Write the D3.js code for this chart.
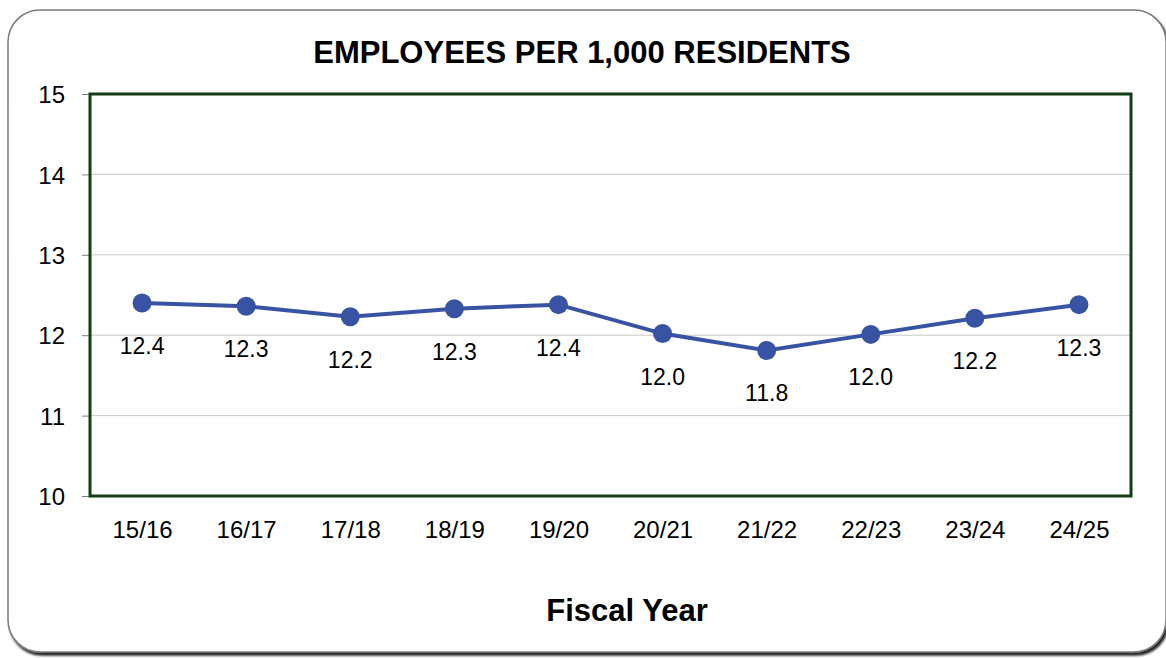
<!DOCTYPE html>
<html>
<head>
<meta charset="utf-8">
<script src="https://cdn.jsdelivr.net/npm/d3@7"></script>
<style>
  body { margin: 0; background: #fff; }
  text { font-family: "Liberation Sans", Arial, sans-serif; fill: #000; }
</style>
</head>
<body>
<svg width="1166" height="658"></svg>
<script>
// Data
let years = ["15/16", "16/17", "17/18", "18/19", "19/20", "20/21", "21/22", "22/23", "23/24", "24/25"];
let values = [12.40, 12.36, 12.23, 12.33, 12.38, 12.02, 11.81, 12.01, 12.21, 12.38];
let labels = ["12.4", "12.3", "12.2", "12.3", "12.4", "12.0", "11.8", "12.0", "12.2", "12.3"];
let yTicks = [10, 11, 12, 13, 14, 15];

let svg = d3.select("svg");

// frame with a shadow
let defs = svg.append("defs");
defs.append("filter")
  .attr("id", "shadow")
  .attr("x", "-5%").attr("y", "-5%").attr("width", "110%").attr("height", "110%")
  .append("feDropShadow")
  .attr("dx", 2).attr("dy", 3)
  .attr("stdDeviation", 1.2)
  .attr("flood-color", "#000")
  .attr("flood-opacity", 0.85);

svg.append("rect")
  .attr("x", 8).attr("y", 10)
  .attr("width", 1158).attr("height", 642)
  .attr("rx", 32).attr("ry", 32)
  .attr("fill", "#fff")
  .attr("stroke", "#7a7a7a")
  .attr("stroke-width", 1.5)
  .attr("filter", "url(#shadow)");

// plot area
let plot = { left: 90, top: 94, right: 1131, bottom: 496 };

let x = d3.scalePoint()
  .domain(years)
  .range([plot.left, plot.right])
  .padding(0.5);

let y = d3.scaleLinear()
  .domain([10, 15])
  .range([plot.bottom, plot.top]);

// gridlines
svg.append("g")
  .selectAll("line")
  .data(yTicks.filter(d => d > 10 && d < 15))
  .enter()
  .append("line")
  .attr("x1", plot.left).attr("x2", plot.right)
  .attr("y1", d => y(d)).attr("y2", d => y(d))
  .attr("stroke", "#c9c9c9")
  .attr("stroke-width", 1);

// y axis
let yAxis = svg.append("g")
  .attr("transform", "translate(" + plot.left + ",0)")
  .call(d3.axisLeft(y).tickValues(yTicks).tickSize(8).tickPadding(17).tickFormat(d3.format("d")));
yAxis.select(".domain").remove();
yAxis.selectAll(".tick line").attr("stroke", "#808080");
yAxis.selectAll("text")
  .style("font-size", "24px")
  .attr("dy", "0.36em")
  .attr("fill", "#000");

// x axis labels
let xAxis = svg.append("g")
  .attr("transform", "translate(0," + plot.bottom + ")")
  .call(d3.axisBottom(x).tickSize(0).tickPadding(0));
xAxis.select(".domain").remove();
xAxis.selectAll("text")
  .style("font-size", "24px")
  .attr("y", 0)
  .attr("dy", 0)
  .attr("transform", "translate(0,42)")
  .attr("fill", "#000");

// plot border
svg.append("rect")
  .attr("x", plot.left).attr("y", plot.top)
  .attr("width", plot.right - plot.left)
  .attr("height", plot.bottom - plot.top)
  .attr("fill", "none")
  .attr("stroke", "#133d13")
  .attr("stroke-width", 3);

// line
let line = d3.line()
  .x((d, i) => x(years[i]))
  .y(d => y(d));

svg.append("path")
  .datum(values)
  .attr("d", line)
  .attr("fill", "none")
  .attr("stroke", "#3953a4")
  .attr("stroke-width", 4);

svg.append("g")
  .selectAll("circle")
  .data(values)
  .enter()
  .append("circle")
  .attr("cx", (d, i) => x(years[i]))
  .attr("cy", d => y(d))
  .attr("r", 9.5)
  .attr("fill", "#3953a4");

// value labels
svg.append("g")
  .selectAll("text")
  .data(values)
  .enter()
  .append("text")
  .attr("x", (d, i) => x(years[i]))
  .attr("y", d => y(d) + 51)
  .attr("text-anchor", "middle")
  .style("font-size", "23px")
  .text((d, i) => labels[i]);

// titles
svg.append("text")
  .attr("x", 582).attr("y", 63)
  .attr("text-anchor", "middle")
  .style("font-size", "31px")
  .style("font-weight", "bold")
  .text("EMPLOYEES PER 1,000 RESIDENTS");

svg.append("text")
  .attr("x", 627).attr("y", 621)
  .attr("text-anchor", "middle")
  .style("font-size", "31px")
  .style("font-weight", "bold")
  .text("Fiscal Year");
</script>
</body>
</html>
